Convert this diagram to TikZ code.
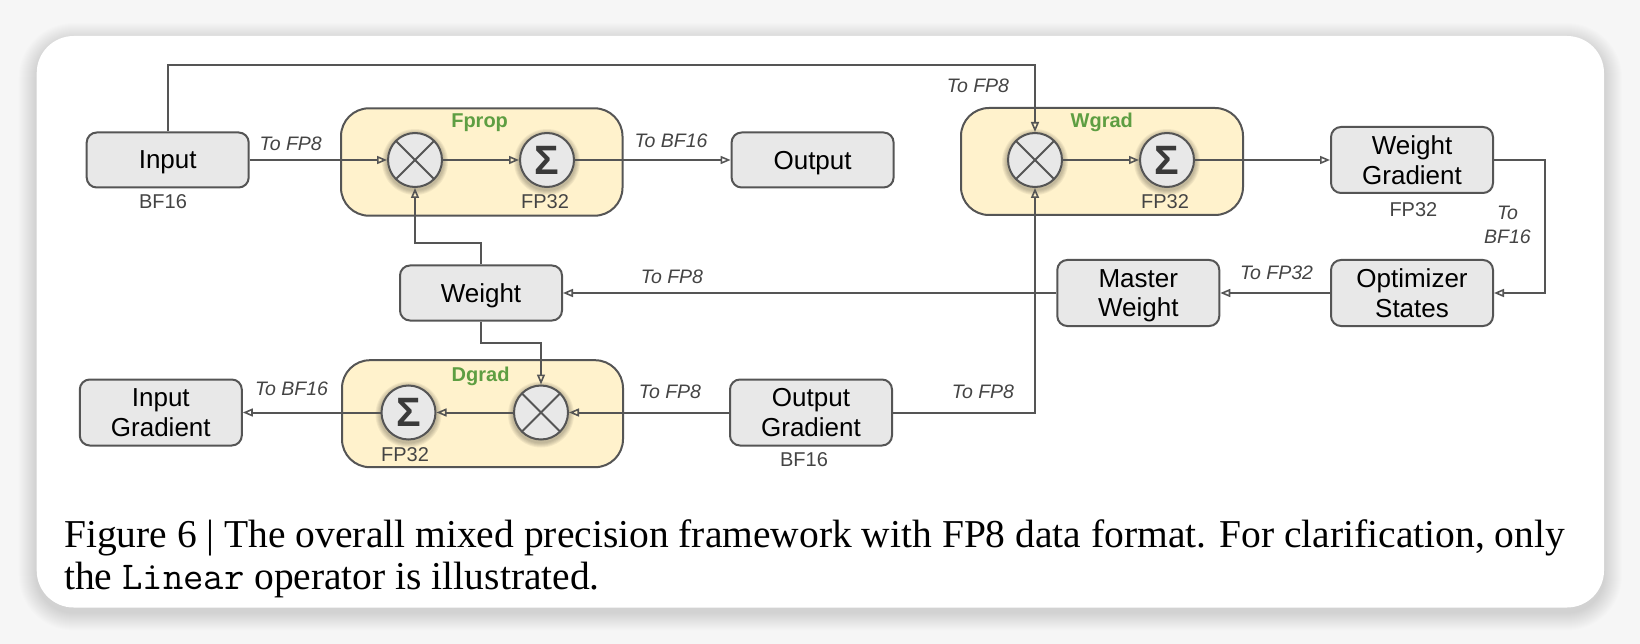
\documentclass[tikz,border=0pt]{standalone}
\usepackage{fontspec}
\setmainfont{Liberation Sans}
\newfontfamily\capfont{Liberation Serif}
\usetikzlibrary{arrows.meta}
\definecolor{linec}{HTML}{555555}
\definecolor{boxfill}{HTML}{E8E8E8}
\definecolor{grpfill}{HTML}{FFF2CC}
\definecolor{grpgreen}{HTML}{5E9E42}
\definecolor{labc}{HTML}{444444}
\definecolor{sigc}{HTML}{3A3A3A}
\definecolor{bgc}{HTML}{F6F6F6}
\begin{document}
\begin{tikzpicture}[x=1pt,y=-1pt,
  conn/.style={draw=linec, line width=2pt, -{Triangle[open,length=10pt,width=8pt,line width=1.6pt]}},
  plain/.style={draw=linec, line width=2pt},
  box/.style={draw=linec, line width=2pt, fill=boxfill, rounded corners=10pt, minimum width=162pt, minimum height=55pt, inner sep=0pt, align=center, text depth=0pt, font=\fontsize{26}{29.5}\selectfont},
  tall/.style={box, minimum height=66pt},
  grp/.style={draw=linec, line width=2pt, fill=grpfill, rounded corners=28pt, inner sep=0pt},
  op/.style={circle, draw=linec, line width=2pt, fill=boxfill, minimum size=54pt, inner sep=0pt},
  lab/.style={font=\fontsize{19.5}{23.5}\selectfont\itshape, text=labc, inner sep=0pt, align=center},
  prec/.style={font=\fontsize{20}{22}\selectfont, text=labc, inner sep=0pt},
  gname/.style={font=\fontsize{20}{22}\selectfont\bfseries, text=grpgreen, inner sep=0pt},
  sig/.style={op, font=\fontsize{41}{41}\selectfont\bfseries, text=sigc}
]
\useasboundingbox (0,0) rectangle (1640,644);
\fill[bgc] (0,0) rectangle (1640,644);
% card shadow
\foreach \i [evaluate=\i as \rr using 37+\i] in {1,...,18}
  \fill[black, opacity=0.007, rounded corners=\rr pt] ({36.7-\i},{41-\i}) rectangle ({1604+\i},{612.5+\i});
\fill[white, rounded corners=37pt] (36.7,36) rectangle (1604,607.5);

% group boxes
\node[grp, minimum width=281.5pt, minimum height=107.4pt] (fprop) at (481.75,162) {};
\node[grp, minimum width=282pt, minimum height=107pt] (wgrad) at (1102,161.5) {};
\node[grp, minimum width=281pt, minimum height=107pt] (dgrad) at (482.5,413.7) {};
\node[gname] (fpropl) at (479.6,122.5) {Fprop};
\node[gname] (wgradl) at (1101.8,122) {Wgrad};
\node[gname] (dgradl) at (480.6,376) {Dgrad};

% operator shadows
\foreach \x/\y in {415/160, 547/160, 1035/160, 1167/160, 408.5/412.5, 541/412.5}
  \foreach \i in {1,...,5}
    \fill[black, opacity=0.05] (\x,{\y+2}) circle ({28+\i});

% operators
\node[op] (m1) at (415,160) {};
\node[sig] (s1) at (547,160) {\char"03A3};
\node[op] (m2) at (1035,160) {};
\node[sig] (s2) at (1167,160) {\char"03A3};
\node[op] (m3) at (541,412.5) {};
\node[sig] (s3) at (408.5,412.5) {\char"03A3};
\foreach \m in {m1,m2,m3} {
  \draw[plain, shorten >=1pt, shorten <=1pt] (\m.45) -- (\m.225);
  \draw[plain, shorten >=1pt, shorten <=1pt] (\m.135) -- (\m.315);
}

% boxes
\node[box] (input) at (167.7,160) {Input};
\node[box] (output) at (812.6,160) {Output};
\node[box] (weight) at (481,293) {Weight};
\node[tall] (wg) at (1412,160) {Weight\\Gradient};
\node[tall] (opt) at (1412,293) {Optimizer\\States};
\node[tall] (mw) at (1138.3,293) {Master\\Weight};
\node[tall] (ig) at (160.8,412.5) {Input\\Gradient};
\node[tall] (og) at (811,412.5) {Output\\Gradient};

% precision labels
\node[prec] (p1) at (163,201.7) {BF16};
\node[prec] (p2) at (545,201.7) {FP32};
\node[prec] (p3) at (1165,202) {FP32};
\node[prec] (p4) at (1413.4,209.3) {FP32};
\node[prec] (p5) at (405,455) {FP32};
\node[prec] (p6) at (804,460) {BF16};

% connector labels
\node[lab] (l1) at (290.7,144) {To FP8};
\node[lab] (l2) at (671,141) {To BF16};
\node[lab] (l3) at (978,86) {To FP8};
\node[lab] (l4) at (1507.5,225) {To\\BF16};
\node[lab] (l5) at (1276.5,273) {To FP32};
\node[lab] (l6) at (672,276.7) {To FP8};
\node[lab] (l7) at (670,391.7) {To FP8};
\node[lab] (l8) at (983,391.7) {To FP8};
\node[lab] (l9) at (291.5,389) {To BF16};

% connectors
\coordinate (topy) at (0,65);
\draw[conn] (input.north) -- (input.north |- topy) -| (m2.north);
\draw[conn] (input.east) -- (m1.west);
\draw[conn] (m1.east) -- (s1.west);
\draw[conn] (s1.east) -- (output.west);
\draw[conn] (m2.east) -- (s2.west);
\draw[conn] (s2.east) -- (wg.west);
\draw[conn] (wg.east) -- ++(51,0) |- (opt.east);
\draw[conn] (opt.west) -- (mw.east);
\draw[conn] (mw.west) -- (weight.east);
\draw[conn] (weight.north) -- ++(0,-21.5) -| (m1.south);
\draw[conn] (weight.south) -- ++(0,21.5) -| (m3.north);
\draw[conn] (og.east) -| (m2.south);
\draw[conn] (og.west) -- (m3.east);
\draw[conn] (m3.west) -- (s3.east);
\draw[conn] (s3.west) -- (ig.east);

% caption
\node[anchor=base west, inner sep=0pt, font=\capfont\fontsize{39.5}{42}\selectfont] (cap1) at (64,547) {Figure 6 | The overall mixed precision framework with FP8 data format. For clarification, only};
\node[anchor=base west, inner sep=0pt, font=\capfont\fontsize{39.5}{42}\selectfont] (cap2) at (64,589) {the {\ttfamily Linear} operator is illustrated.};
\end{tikzpicture}
\end{document}
